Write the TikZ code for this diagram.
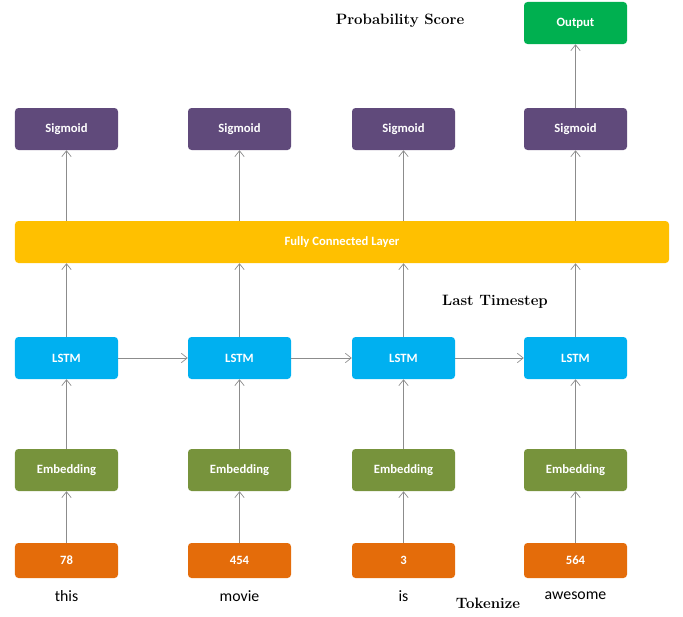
\documentclass[tikz,border=0pt]{standalone}
\usepackage{fontspec}
\newfontfamily\carlito{Carlito}
\usetikzlibrary{arrows.meta}
\definecolor{sigpurple}{HTML}{604A7B}
\definecolor{outgreen}{HTML}{00B050}
\definecolor{fcyellow}{HTML}{FFC000}
\definecolor{lstmblue}{HTML}{00B0F0}
\definecolor{embgreen}{HTML}{77933C}
\definecolor{tokorange}{HTML}{E46C0A}
\definecolor{arrgray}{HTML}{8C8C8C}
\tikzset{
  block/.style={rounded corners=3pt, minimum width=3.09cm, minimum height=1.26cm,
    text=white, font=\carlito\bfseries\fontsize{10.8}{12}\selectfont, inner sep=0pt},
  tokbox/.style={block, minimum height=1.05cm},
  word/.style={font=\carlito\fontsize{13.5}{16}\selectfont},
  caption/.style={font=\bfseries\fontsize{12.8}{15}\selectfont},
  arr/.style={draw=arrgray, line width=0.6pt, -{Straight Barb[length=5pt,width=8pt]}}
}

\begin{document}
\begin{tikzpicture}[x=0.03cm,y=-0.03cm]
\useasboundingbox (0,0) rectangle (683,616);
% top
\node[block, fill=outgreen] (out) at (575.5,23) {Output};
\node[caption] (prob) at (400,21) {Probability Score};
% sigmoid row
\node[block, fill=sigpurple] (sig1) at (66.5,129) {Sigmoid};
\node[block, fill=sigpurple] (sig2) at (239.5,129) {Sigmoid};
\node[block, fill=sigpurple] (sig3) at (403.5,129) {Sigmoid};
\node[block, fill=sigpurple] (sig4) at (575.5,129) {Sigmoid};
% dense layer
\node[block, fill=fcyellow, minimum width=19.62cm] (fc) at (342,242) {Fully Connected Layer};
\node[caption] (last) at (495,302) {Last Timestep};
% lstm row
\node[block, fill=lstmblue] (lstm1) at (66.5,358) {LSTM};
\node[block, fill=lstmblue] (lstm2) at (239.5,358) {LSTM};
\node[block, fill=lstmblue] (lstm3) at (403.5,358) {LSTM};
\node[block, fill=lstmblue] (lstm4) at (575.5,358) {LSTM};
% embedding row
\node[block, fill=embgreen] (emb1) at (66.5,470) {Embedding};
\node[block, fill=embgreen] (emb2) at (239.5,470) {Embedding};
\node[block, fill=embgreen] (emb3) at (403.5,470) {Embedding};
\node[block, fill=embgreen] (emb4) at (575.5,470) {Embedding};
% tokens
\node[tokbox, fill=tokorange] (tok1) at (66.5,560.5) {78};
\node[tokbox, fill=tokorange] (tok2) at (239.5,560.5) {454};
\node[tokbox, fill=tokorange] (tok3) at (403.5,560.5) {3};
\node[tokbox, fill=tokorange] (tok4) at (575.5,560.5) {564};
\node[word] (w1) at (66.5,596) {this};
\node[word] (w2) at (239.5,596) {movie};
\node[word] (w3) at (403.5,596) {is};
\node[word] (w4) at (575.5,596) {awesome};
\node[caption] (tokz) at (488,603) {Tokenize};
% connectors
\draw[arr] (sig4) -- (out);
\draw[arr] (sig1 |- fc.north) -- (sig1);
\draw[arr] (sig2 |- fc.north) -- (sig2);
\draw[arr] (sig3 |- fc.north) -- (sig3);
\draw[arr] (sig4 |- fc.north) -- (sig4);
\draw[arr] (lstm1) -- (lstm1 |- fc.south);
\draw[arr] (lstm2) -- (lstm2 |- fc.south);
\draw[arr] (lstm3) -- (lstm3 |- fc.south);
\draw[arr] (lstm4) -- (lstm4 |- fc.south);
\draw[arr] (lstm1) -- (lstm2);
\draw[arr] (lstm2) -- (lstm3);
\draw[arr] (lstm3) -- (lstm4);
\draw[arr] (emb1) -- (lstm1);
\draw[arr] (emb2) -- (lstm2);
\draw[arr] (emb3) -- (lstm3);
\draw[arr] (emb4) -- (lstm4);
\draw[arr] (tok1) -- (emb1);
\draw[arr] (tok2) -- (emb2);
\draw[arr] (tok3) -- (emb3);
\draw[arr] (tok4) -- (emb4);
\end{tikzpicture}
\end{document}
